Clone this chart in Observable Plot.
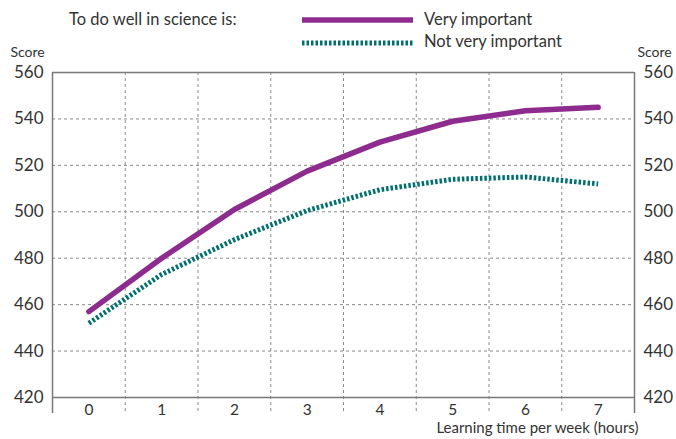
<!DOCTYPE html>
<html>
<head>
<meta charset="utf-8">
<script src="https://cdn.jsdelivr.net/npm/d3@7"></script>
<script src="https://cdn.jsdelivr.net/npm/@observablehq/plot@0.6"></script>
<style>
  html, body { margin: 0; padding: 0; background: #fff; }
  #wrap { position: relative; width: 676px; height: 439px; font-family: Lato, "Open Sans", sans-serif; color: #333; }
  #chart { position: absolute; left: 0; top: 0; }
  .lg { position: absolute; font-size: 16.5px; line-height: 1; white-space: nowrap; }
</style>
</head>
<body>
<div id="wrap">
  <div id="chart"></div>
  <div class="lg" id="legtitle" style="left:69px; top:11px;"></div>
  <svg style="position:absolute; left:302px; top:14px;" width="112" height="34">
    <line x1="0" x2="111" y1="6" y2="6" stroke="#8E2B8E" stroke-width="5.5"></line>
    <line x1="0" x2="111" y1="29" y2="29" stroke="#00706F" stroke-width="5" stroke-dasharray="2.5,2"></line>
  </svg>
  <div class="lg" id="leg0" style="left:424px; top:11px;"></div>
  <div class="lg" id="leg1" style="left:424px; top:33px;"></div>
</div>
<script>
// ---- data ----
const hours = [0, 1, 2, 3, 4, 5, 6, 7];
const veryImportant = [457, 480, 501, 517.5, 530, 539, 543.5, 545];
const notVeryImportant = [452, 473, 488, 500.5, 509.5, 514, 515, 512];
const seriesNames = ["Very important", "Not very important"];
const yTicks = [420, 440, 460, 480, 500, 520, 540, 560];
const legendTitle = "To do well in science is:";
const yLabel = "Score";
const xLabel = "Learning time per week (hours)";

// ---- build table ----
const rows = [];
hours.forEach((h, i) => {
  rows.push({hours: h, score: veryImportant[i], series: seriesNames[0]});
  rows.push({hours: h, score: notVeryImportant[i], series: seriesNames[1]});
});
const bandEdges = hours.slice(0, -1).map(h => h + 0.5);
const outerEdges = [hours[0] - 0.5, hours[hours.length - 1] + 0.5];
const hGrid = yTicks.slice(1, -1);

const gray = "#7a7a7a";
const textColor = "#333";

const chart = Plot.plot({
  width: 676,
  height: 439,
  marginTop: 72,
  marginBottom: 42,
  marginLeft: 52,
  marginRight: 42,
  style: {fontFamily: "Lato, 'Open Sans', sans-serif", fontSize: "16px", color: textColor, background: "white"},
  x: {domain: outerEdges, type: "linear"},
  y: {domain: [yTicks[0], yTicks[yTicks.length - 1]]},
  marks: [
    Plot.ruleY(hGrid, {stroke: "#8a8a8a", strokeDasharray: "3,3", strokeWidth: 1}),
    Plot.ruleX(bandEdges, {stroke: "#8a8a8a", strokeDasharray: "3,3", strokeWidth: 1, insetBottom: -16}),
    Plot.ruleY([yTicks[0], yTicks[yTicks.length - 1]], {stroke: gray, strokeWidth: 1.5}),
    Plot.ruleX(outerEdges, {stroke: gray, strokeWidth: 1.5, insetBottom: -16}),
    Plot.line(rows.filter(d => d.series === seriesNames[1]), {
      x: "hours", y: "score", stroke: "#00706F", strokeWidth: 5, strokeDasharray: "2.5,2",
      strokeLinecap: "butt", strokeLinejoin: "round", curve: "linear"
    }),
    Plot.line(rows.filter(d => d.series === seriesNames[0]), {
      x: "hours", y: "score", stroke: "#8E2B8E", strokeWidth: 5.5, strokeLinecap: "round", curve: "linear"
    }),
    Plot.axisX(hours, {tickSize: 0, tickPadding: 6, label: null, fontSize: 15.5, tickFormat: d => String(d)}),
    Plot.axisY(yTicks, {anchor: "left", tickSize: 0, tickPadding: 9, label: null, fontSize: 17}),
    Plot.axisY(yTicks, {anchor: "right", tickSize: 0, tickPadding: 9, label: null, fontSize: 17}),
    Plot.text([yLabel], {frameAnchor: "top-left", dx: -42, dy: -25, textAnchor: "start", fontSize: 14, fill: textColor}),
    Plot.text([yLabel], {frameAnchor: "top-right", dx: 3, dy: -25, textAnchor: "start", fontSize: 14, fill: textColor}),
    Plot.text([xLabel], {frameAnchor: "bottom-right", dx: 4, dy: 35, textAnchor: "end", fontSize: 15, fill: textColor})
  ]
});
document.getElementById("chart").appendChild(chart);
document.getElementById("legtitle").textContent = legendTitle;
document.getElementById("leg0").textContent = seriesNames[0];
document.getElementById("leg1").textContent = seriesNames[1];
</script>
</body>
</html>
